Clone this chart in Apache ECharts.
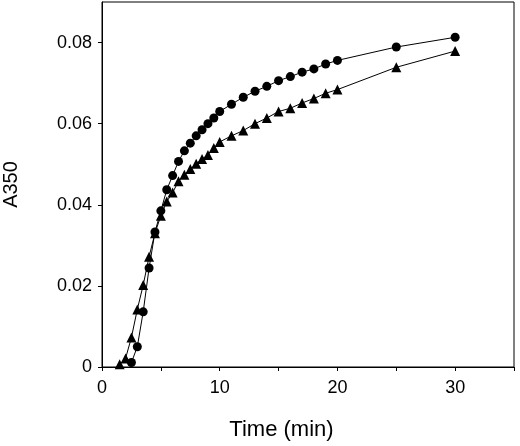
<!DOCTYPE html>
<html>
<head>
<meta charset="utf-8">
<script src="https://cdn.jsdelivr.net/npm/echarts@6/dist/echarts.min.js"></script>
<style>
  html, body { margin: 0; padding: 0; background: #fff; }
  #container { width: 520px; height: 446px; }
</style>
</head>
<body>
<div id="container"></div>
<script>
// time points (min)
var circleTimes = [2.5, 3, 3.5, 4, 4.5, 5, 5.5, 6, 6.5, 7, 7.5, 8, 8.5, 9, 9.5, 10,
    11, 12, 13, 14, 15, 16, 17, 18, 19, 20, 25, 30];
var circleValues = [0.0011, 0.005, 0.0136, 0.0244, 0.0333, 0.0385, 0.0437, 0.0472, 0.0507, 0.0533,
    0.0552, 0.0570, 0.0585, 0.0600, 0.0614, 0.0630,
    0.0648, 0.0665, 0.0680, 0.0692, 0.0706, 0.0716, 0.0727, 0.0735, 0.0747, 0.0756, 0.0789, 0.0813];

var triangleTimes = [1.5, 2, 2.5, 3, 3.5, 4, 4.5, 5, 5.5, 6, 6.5, 7, 7.5, 8, 8.5, 9, 9.5, 10,
    11, 12, 13, 14, 15, 16, 17, 18, 19, 20, 25, 30];
var triangleValues = [0.0007, 0.0021, 0.0073, 0.0142, 0.0202, 0.0272, 0.033, 0.0373, 0.0408, 0.0430,
    0.0458, 0.0474, 0.0488, 0.0501, 0.0513, 0.0523, 0.0540, 0.0555,
    0.0570, 0.0583, 0.0600, 0.0614, 0.0630, 0.0638, 0.0651, 0.0662, 0.0675, 0.0684, 0.0739, 0.0779];

var xTicks = [0, 5, 10, 15, 20, 25, 30, 35];
var xLabels = [0, 10, 20, 30];
var yTicks = [0, 0.02, 0.04, 0.06, 0.08];

function pairs(xs, ys) {
    return xs.map(function (x, i) { return [x, ys[i]]; });
}

var dom = document.getElementById('container');
var myChart = echarts.init(dom, null, { renderer: 'canvas' });

var font = 'Liberation Sans, Arial, sans-serif';

var option = {
    animation: false,
    grid: {
        left: 102, right: 6, top: 2, bottom: 79,
        containLabel: false,
        outerBoundsMode: 'none',
        show: true, borderColor: '#000', borderWidth: 1
    },
    xAxis: {
        type: 'value',
        min: 0, max: 35,
        name: 'Time (min)',
        nameLocation: 'middle',
        nameGap: 52,
        nameTextStyle: { fontFamily: font, fontSize: 22, color: '#000', padding: [0, 53, 0, 0] },
        axisLine: { lineStyle: { color: '#000', width: 1 } },
        axisTick: { inside: false, length: 4, customValues: xTicks, lineStyle: { color: '#000' } },
        axisLabel: { customValues: xLabels, margin: 12, fontFamily: font, fontSize: 18, color: '#000' },
        splitLine: { show: false }
    },
    yAxis: {
        type: 'value',
        min: 0, max: 0.09,
        name: 'A350',
        nameLocation: 'middle',
        nameGap: 81,
        nameTextStyle: { fontFamily: font, fontSize: 20, color: '#000' },
        axisLine: { show: true, lineStyle: { color: '#000', width: 1 } },
        axisTick: { show: true, length: 4, customValues: yTicks, lineStyle: { color: '#000' } },
        axisLabel: {
            customValues: yTicks, margin: 10, fontFamily: font, fontSize: 18, color: '#000',
            formatter: function (v) { return v === 0 ? '0' : v.toFixed(2); }
        },
        splitLine: { show: false }
    },
    series: [
        {
            type: 'line',
            data: pairs(triangleTimes, triangleValues),
            symbol: 'triangle',
            symbolSize: 10,
            itemStyle: { color: '#000' },
            lineStyle: { color: '#000', width: 1 }
        },
        {
            type: 'line',
            data: pairs(circleTimes, circleValues),
            symbol: 'circle',
            symbolSize: 9,
            itemStyle: { color: '#000' },
            lineStyle: { color: '#000', width: 1 }
        }
    ]
};

if (option && typeof option === 'object') {
    myChart.setOption(option);
}

window.addEventListener('resize', myChart.resize);
</script>
</body>
</html>
